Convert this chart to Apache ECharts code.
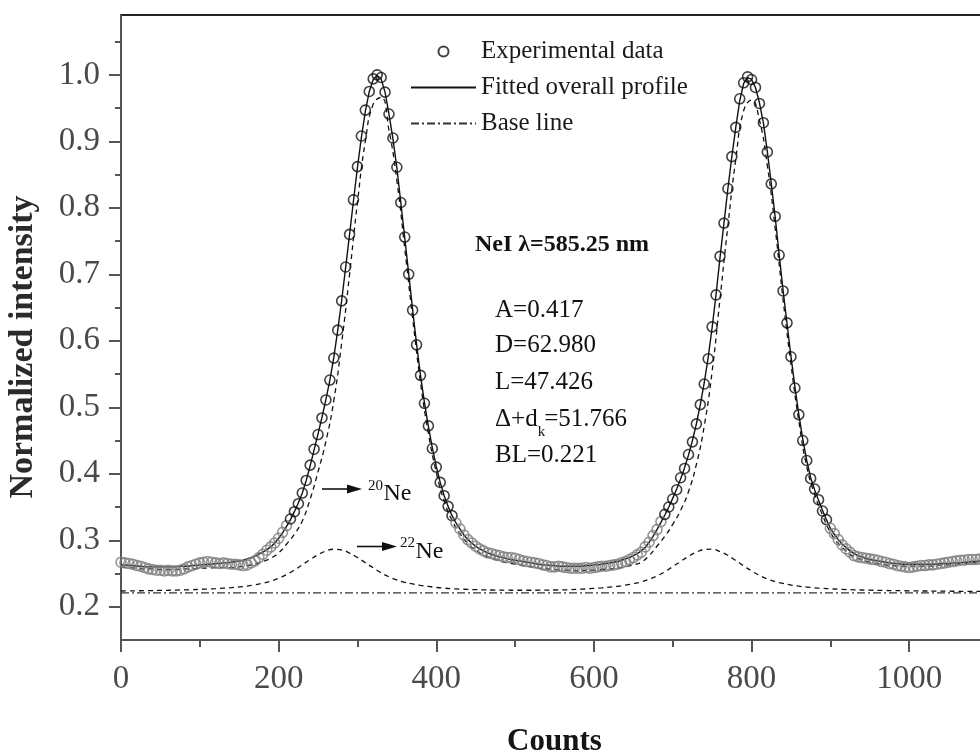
<!DOCTYPE html>
<html><head><meta charset="utf-8">
<script src="https://cdn.jsdelivr.net/npm/echarts@6/dist/echarts.min.js"></script>
<style>html,body{margin:0;padding:0;background:#fff}#c{width:980px;height:751px}</style>
</head><body><div id="c"></div>
<script>
// ---------------- data ----------------
const countsFine = [
0,5,10,15,20,25,30,35,40,45,50,55,60,65,70,75,80,85,90,95,
100,105,110,115,120,125,130,135,140,145,150,155,160,165,170,175,180,185,190,195,
200,205,210,215,220,225,230,235,240,245,250,255,260,265,270,275,280,285,290,295,
300,305,310,315,320,325,330,335,340,345,350,355,360,365,370,375,380,385,390,395,
400,405,410,415,420,425,430,435,440,445,450,455,460,465,470,475,480,485,490,495,
500,505,510,515,520,525,530,535,540,545,550,555,560,565,570,575,580,585,590,595,
600,605,610,615,620,625,630,635,640,645,650,655,660,665,670,675,680,685,690,695,
700,705,710,715,720,725,730,735,740,745,750,755,760,765,770,775,780,785,790,795,
800,805,810,815,820,825,830,835,840,845,850,855,860,865,870,875,880,885,890,895,
900,905,910,915,920,925,930,935,940,945,950,955,960,965,970,975,980,985,990,995,
1000,1005,1010,1015,1020,1025,1030,1035,1040,1045,1050,1055,1060,1065,1070,1075,1080,1085,1090,1095,
1100];
const expY = [
.267,.266,.265,.264,.262,.261,.259,.257,.256,.255,.255,.254,.255,.254,.254,.255,.257,.260,.262,.264,
.266,.267,.268,.267,.266,.265,.266,.265,.264,.264,.263,.262,.263,.266,.269,.274,.279,.285,.290,.296,
.303,.312,.322,.332,.343,.355,.371,.390,.413,.437,.459,.484,.511,.541,.574,.616,.660,.711,.760,.812,
.862,.908,.947,.975,.994,1.000,.996,.974,.941,.905,.861,.808,.756,.700,.646,.594,.548,.506,.472,.438,
.410,.387,.367,.351,.337,.326,.317,.308,.301,.296,.291,.287,.284,.281,.280,.278,.277,.275,.274,.274,
.273,.271,.269,.268,.267,.266,.265,.263,.262,.260,.260,.261,.260,.259,.258,.258,.258,.258,.259,.258,
.259,.260,.261,.261,.262,.263,.264,.266,.268,.271,.274,.278,.282,.290,.297,.307,.316,.328,.339,.350,
.362,.376,.394,.408,.429,.448,.475,.504,.535,.573,.621,.669,.727,.777,.829,.877,.921,.964,.988,.997,
.993,.981,.957,.928,.884,.836,.787,.729,.675,.627,.576,.529,.489,.450,.420,.393,.377,.361,.344,.331,
.318,.310,.301,.293,.287,.282,.277,.275,.274,.273,.272,.271,.270,.268,.267,.265,.264,.262,.261,.260,
.259,.260,.261,.262,.262,.263,.263,.264,.265,.266,.267,.268,.269,.270,.270,.271,.271,.271,.272,.272,
.273];
const fitY = [
.263,.263,.262,.262,.261,.261,.260,.260,.260,.260,.260,.260,.260,.260,.260,.261,.261,.261,.262,.262,
.263,.263,.264,.264,.265,.265,.266,.266,.267,.268,.269,.270,.272,.274,.276,.279,.282,.286,.290,.296,
.303,.311,.321,.331,.343,.356,.371,.390,.412,.436,.460,.485,.512,.541,.575,.616,.661,.710,.760,.811,
.861,.906,.945,.975,.993,.999,.994,.974,.941,.904,.860,.808,.755,.701,.647,.595,.548,.507,.471,.439,
.411,.387,.367,.351,.337,.326,.317,.308,.301,.296,.291,.287,.284,.281,.279,.277,.275,.274,.272,.271,
.270,.269,.268,.267,.266,.265,.264,.263,.263,.262,.262,.261,.261,.261,.261,.261,.261,.261,.262,.262,
.263,.263,.264,.265,.266,.267,.268,.270,.272,.274,.277,.280,.284,.289,.297,.306,.316,.327,.338,.350,
.363,.377,.392,.409,.428,.450,.475,.504,.537,.575,.620,.670,.725,.777,.829,.877,.921,.961,.987,.996,
.993,.981,.958,.928,.885,.837,.786,.730,.676,.626,.577,.531,.489,.452,.420,.394,.376,.360,.345,.331,
.318,.309,.301,.294,.289,.284,.280,.277,.275,.273,.271,.270,.269,.268,.267,.266,.265,.265,.264,.264,
.264,.264,.264,.264,.264,.264,.264,.264,.265,.265,.265,.266,.266,.266,.267,.267,.268,.268,.269,.269,
.270];
const countsCoarse = [
0,10,20,30,40,50,60,70,80,90,
100,110,120,130,140,150,160,170,180,190,
200,210,220,230,240,250,260,270,280,290,
300,310,320,330,340,350,360,370,380,390,
400,410,420,430,440,450,460,470,480,490,
500,510,520,530,540,550,560,570,580,590,
600,610,620,630,640,650,660,670,680,690,
700,710,720,730,740,750,760,770,780,790,
800,810,820,830,840,850,860,870,880,890,
900,910,920,930,940,950,960,970,980,990,
1000,1010,1020,1030,1040,1050,1060,1070,1080,1090,
1100];
const ne20Y = [
.260,.259,.258,.257,.257,.256,.256,.256,.257,.257,
.258,.258,.259,.259,.259,.260,.262,.264,.268,.273,
.281,.294,.309,.329,.362,.403,.449,.510,.597,.700,
.808,.900,.956,.966,.917,.841,.739,.634,.537,.461,
.402,.359,.330,.310,.295,.285,.278,.273,.269,.266,
.264,.262,.260,.258,.257,.256,.255,.255,.254,.255,
.255,.256,.257,.258,.260,.263,.267,.277,.291,.306,
.324,.345,.373,.414,.472,.554,.663,.773,.873,.946,
.962,.932,.864,.769,.662,.565,.479,.411,.369,.338,
.312,.295,.284,.275,.271,.267,.265,.263,.262,.261,
.261,.261,.261,.261,.263,.263,.264,.265,.266,.267,
.268];
const ne22Y = [
.2237,.2239,.2240,.2242,.2244,.2246,.2248,.2251,.2254,.2257,
.2262,.2267,.2273,.2280,.2287,.2298,.2311,.2330,.2354,.2384,
.2428,.2484,.2553,.2631,.2709,.2783,.2838,.2865,.2854,.2807,
.2740,.2663,.2585,.2511,.2451,.2403,.2368,.2343,.2322,.2305,
.2290,.2280,.2272,.2266,.2261,.2257,.2254,.2252,.2250,.2249,
.2248,.2248,.2248,.2249,.2250,.2252,.2254,.2257,.2262,.2268,
.2275,.2283,.2294,.2308,.2325,.2347,.2374,.2413,.2464,.2527,
.2604,.2681,.2759,.2820,.2861,.2866,.2829,.2772,.2695,.2616,
.2538,.2472,.2418,.2378,.2350,.2326,.2309,.2296,.2285,.2277,
.2270,.2264,.2259,.2255,.2252,.2249,.2247,.2245,.2243,.2241,
.2240,.2238,.2237,.2236,.2235,.2234,.2233,.2232,.2231,.2230,
.2230];
const baselineCounts = [0, 1100];
const baselineY = [0.221, 0.221];
const xTickLabels = [0, 200, 400, 600, 800, 1000];
const xMinorTicks = [100, 300, 500, 700, 900];
const yTickLabels = [0.2, 0.3, 0.4, 0.5, 0.6, 0.7, 0.8, 0.9, 1.0];
const yMinorTicks = [0.25, 0.35, 0.45, 0.55, 0.65, 0.75, 0.85, 0.95, 1.05];
const fitParams = ['A=0.417', 'D=62.980', 'L=47.426', null, 'BL=0.221'];

// ---------------- checks ----------------
if (expY.length !== countsFine.length || fitY.length !== countsFine.length)
  throw new Error('fine length mismatch ' + countsFine.length + ' ' + expY.length + ' ' + fitY.length);
if (ne20Y.length !== countsCoarse.length || ne22Y.length !== countsCoarse.length)
  throw new Error('coarse length mismatch ' + countsCoarse.length + ' ' + ne20Y.length + ' ' + ne22Y.length);

const zip = (xs, ys) => xs.map((x, i) => [x, ys[i]]);
const SERIF = '"Liberation Serif", "Times New Roman", Times, serif';

const expData = countsFine.map((x, i) => ({
  value: [x, expY[i]],
  itemStyle: { borderColor: expY[i] < 0.33 ? '#7d7d7d' : '#111' }
}));

// text measuring for sub/superscripts
const cv = document.createElement('canvas').getContext('2d');
function tw(t, size, bold) { cv.font = (bold ? 'bold ' : '') + size + 'px ' + SERIF; return cv.measureText(t).width; }

const chart = echarts.init(document.getElementById('c'), null, { renderer: 'canvas' });

const axisGray = '#555';
const tickLabelStyle = { fontFamily: SERIF, fontSize: 33, color: '#4a4a4a' };
const noDot = { color: 'rgba(0,0,0,0)', borderWidth: 0 };

const graphics = [];
// y axis title
graphics.push({ type: 'text', x: 23, y: 347, rotation: Math.PI / 2, style: { text: 'Normalized intensity', font: 'bold 34px ' + SERIF, fill: '#2a2a2a', textAlign: 'center', textVerticalAlign: 'middle' } });
// NeI line label
graphics.push({ type: 'text', x: 562, y: 245, style: { text: 'NeI λ=585.25 nm', font: 'bold 24px ' + SERIF, fill: '#111', textAlign: 'center', textVerticalAlign: 'middle' } });
// fit parameters
const paramY = [310, 345, 382, 419, 455];
fitParams.forEach((t, i) => {
  if (t) graphics.push({ type: 'text', x: 495, y: paramY[i], style: { text: t, font: '25px ' + SERIF, fill: '#111', textVerticalAlign: 'middle' } });
});
{
  const w1 = tw('Δ+d', 25);
  graphics.push({ type: 'text', x: 495, y: paramY[3], style: { text: 'Δ+d', font: '25px ' + SERIF, fill: '#111', textVerticalAlign: 'middle' } });
  graphics.push({ type: 'text', x: 495 + w1, y: paramY[3] + 13, style: { text: 'k', font: '15px ' + SERIF, fill: '#111', textVerticalAlign: 'middle' } });
  graphics.push({ type: 'text', x: 495 + w1 + tw('k', 15) - 1, y: paramY[3], style: { text: '=51.766', font: '25px ' + SERIF, fill: '#111', textVerticalAlign: 'middle' } });
}
// isotope arrows and labels
function isoLabel(x1, x2, y, sup, supX) {
  graphics.push({ type: 'line', shape: { x1: x1, y1: y, x2: x2 - 10, y2: y }, style: { stroke: '#111', lineWidth: 1.6 } });
  graphics.push({ type: 'polygon', shape: { points: [[x2 - 15, y - 4.5], [x2, y], [x2 - 15, y + 4.5]] }, style: { fill: '#111' } });
  graphics.push({ type: 'text', x: supX, y: y - 3, style: { text: sup, font: '15px ' + SERIF, fill: '#111', textVerticalAlign: 'middle' } });
  graphics.push({ type: 'text', x: supX + tw(sup, 15) + 0.5, y: y + 5, style: { text: 'Ne', font: '24px ' + SERIF, fill: '#111', textVerticalAlign: 'middle' } });
}
isoLabel(322, 362, 489, '20', 368);
isoLabel(357, 397, 546.5, '22', 400);

const option = {
  animation: false,
  backgroundColor: '#fff',
  grid: { left: 121, right: -8, top: 15, bottom: 111, containLabel: false, outerBoundsMode: 'none', show: true, borderColor: '#222', borderWidth: 2, backgroundColor: 'transparent' },
  legend: {
    data: ['Experimental data', 'Fitted overall profile', 'Base line'],
    orient: 'vertical', left: 410, top: 39, padding: 0,
    itemWidth: 65, itemHeight: 10, itemGap: 11,
    textStyle: { fontFamily: SERIF, fontSize: 25, color: '#1a1a1a', lineHeight: 25 }
  },
  xAxis: [
    {
      type: 'value', min: 0, max: 1100, gridIndex: 0,
      name: 'Counts', nameLocation: 'middle', nameGap: 86,
      nameTextStyle: { fontFamily: SERIF, fontSize: 31, fontWeight: 'bold', color: '#151515' },
      axisLine: { show: true, lineStyle: { color: axisGray, width: 2 } },
      axisTick: { show: true, customValues: xMinorTicks, length: 7, lineStyle: { color: axisGray, width: 2 } },
      axisLabel: { customValues: xTickLabels, margin: 23, formatter: v => String(v), ...tickLabelStyle },
      splitLine: { show: false }
    },
    {
      type: 'value', min: 0, max: 1100, gridIndex: 0, position: 'bottom',
      axisLine: { show: false },
      axisTick: { show: true, customValues: xTickLabels, length: 12, lineStyle: { color: axisGray, width: 2 } },
      axisLabel: { show: false }, splitLine: { show: false }
    }
  ],
  yAxis: [
    {
      type: 'value', min: 0.15, max: 1.09, gridIndex: 0, position: 'left',
      axisLine: { show: true, lineStyle: { color: axisGray, width: 2 } },
      axisTick: { show: true, customValues: yMinorTicks, length: 6, lineStyle: { color: axisGray, width: 2 } },
      axisLabel: { customValues: yTickLabels, margin: 21, formatter: v => v.toFixed(1), ...tickLabelStyle },
      splitLine: { show: false }
    },
    {
      type: 'value', min: 0.15, max: 1.09, gridIndex: 0, position: 'left',
      axisLine: { show: false },
      axisTick: { show: true, customValues: yTickLabels, length: 12, lineStyle: { color: axisGray, width: 2 } },
      axisLabel: { show: false }, splitLine: { show: false }
    }
  ],
  series: [
    {
      name: 'Base line', type: 'line', data: zip(baselineCounts, baselineY),
      symbol: 'none', showSymbol: false, z: 2, itemStyle: noDot,
      lineStyle: { color: '#333', width: 1.2, type: [8, 3, 2, 3] }
    },
    {
      name: '22Ne component', type: 'line', data: zip(countsCoarse, ne22Y),
      symbol: 'none', showSymbol: false, smooth: true, z: 2, itemStyle: noDot,
      lineStyle: { color: '#111', width: 1.3, type: [5, 4] }
    },
    {
      name: '20Ne component', type: 'line', data: zip(countsCoarse, ne20Y),
      symbol: 'none', showSymbol: false, smooth: true, z: 2, itemStyle: noDot,
      lineStyle: { color: '#111', width: 1.3, type: [5, 4] }
    },
    {
      name: 'Fitted overall profile', type: 'line', data: zip(countsFine, fitY),
      symbol: 'none', showSymbol: false, z: 3, itemStyle: noDot,
      lineStyle: { color: '#111', width: 1.4, type: 'solid' }
    },
    {
      name: 'Experimental data', type: 'scatter', data: expData,
      symbol: 'circle', symbolSize: 10, z: 4,
      itemStyle: { color: 'rgba(255,255,255,0)', borderColor: '#111', borderWidth: 1.6 }
    }
  ],
  graphic: graphics
};
chart.setOption(option);
</script>
</body></html>
